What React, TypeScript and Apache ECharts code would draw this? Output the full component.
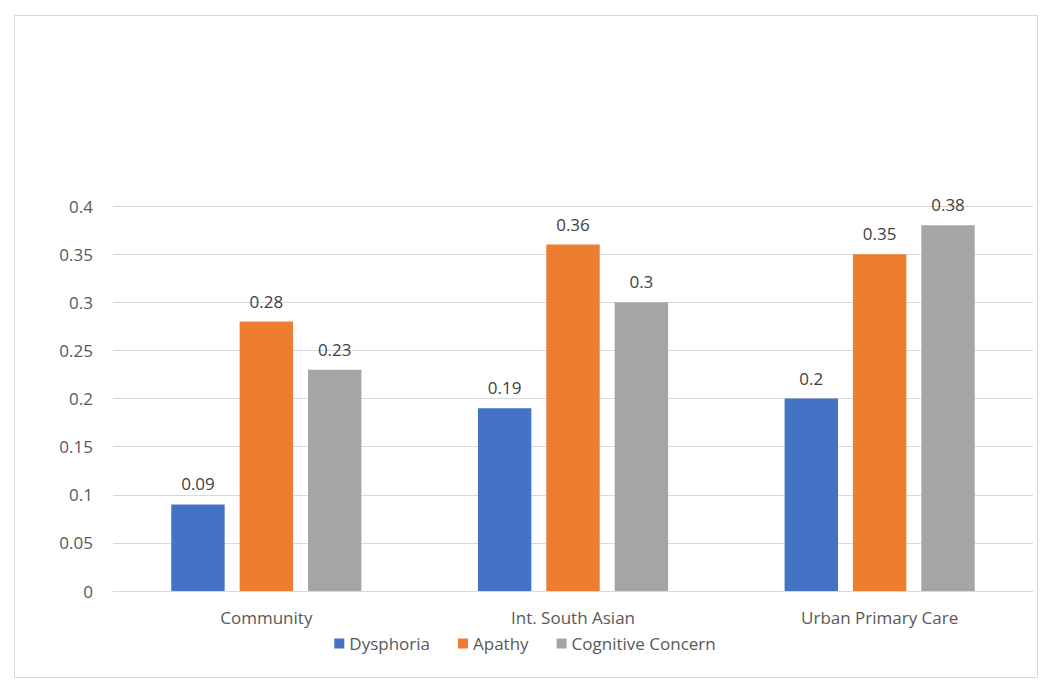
import React, { useEffect, useRef } from "react";
import * as echarts from "echarts";

const categories = ["Community", "Int. South Asian", "Urban Primary Care"];
const seriesNames = ["Dysphoria", "Apathy", "Cognitive Concern"];
const dysphoria = [0.09, 0.19, 0.2];
const apathy = [0.28, 0.36, 0.35];
const cognitiveConcern = [0.23, 0.3, 0.38];
const colors = ["#4472C4", "#ED7D31", "#A5A5A5"];

export default function App() {
  const ref = useRef<HTMLDivElement>(null);
  useEffect(() => {
    if (!ref.current) return;
    const chart = echarts.init(ref.current, null, { renderer: "svg" });
    const font = "'Open Sans', sans-serif";
    const values = [dysphoria, apathy, cognitiveConcern];
    chart.setOption({
      animation: false,
      backgroundColor: "#ffffff",
      textStyle: { fontFamily: font },
      graphic: [
        {
          type: "rect",
          shape: { x: 14.5, y: 15.5, width: 1023, height: 662 },
          style: { fill: "none", stroke: "#d9d9d9", lineWidth: 1 },
          silent: true,
        },
      ],
      grid: { left: 113, right: 17, top: 206, bottom: 102 },
      legend: {
        data: seriesNames,
        bottom: 36,
        left: "center",
        itemWidth: 10,
        itemHeight: 10,
        itemGap: 28,
        icon: "rect",
        textStyle: { color: "#595959", fontSize: 17, fontFamily: font },
      },
      xAxis: {
        type: "category",
        data: categories,
        axisLine: { lineStyle: { color: "#d9d9d9" } },
        axisTick: { show: false },
        axisLabel: { color: "#595959", fontSize: 17, margin: 18, fontFamily: font },
      },
      yAxis: {
        type: "value",
        min: 0,
        max: 0.4,
        interval: 0.05,
        axisLine: { show: false },
        axisTick: { show: false },
        splitLine: { lineStyle: { color: "#d9d9d9" } },
        axisLabel: { color: "#595959", fontSize: 17, margin: 20, fontFamily: font },
      },
      series: seriesNames.map((name, i) => ({
        name,
        type: "bar",
        data: values[i],
        barGap: "28%",
        barCategoryGap: "38%",
        itemStyle: { color: colors[i] },
        label: {
          show: true,
          position: "top",
          distance: 12,
          color: "#404040",
          fontSize: 17,
          fontFamily: font,
        },
      })),
    });
    return () => chart.dispose();
  }, []);
  return (
    <div
      ref={ref}
      style={{ position: "fixed", left: 0, top: 0, width: 1050, height: 693 }}
    />
  );
}
